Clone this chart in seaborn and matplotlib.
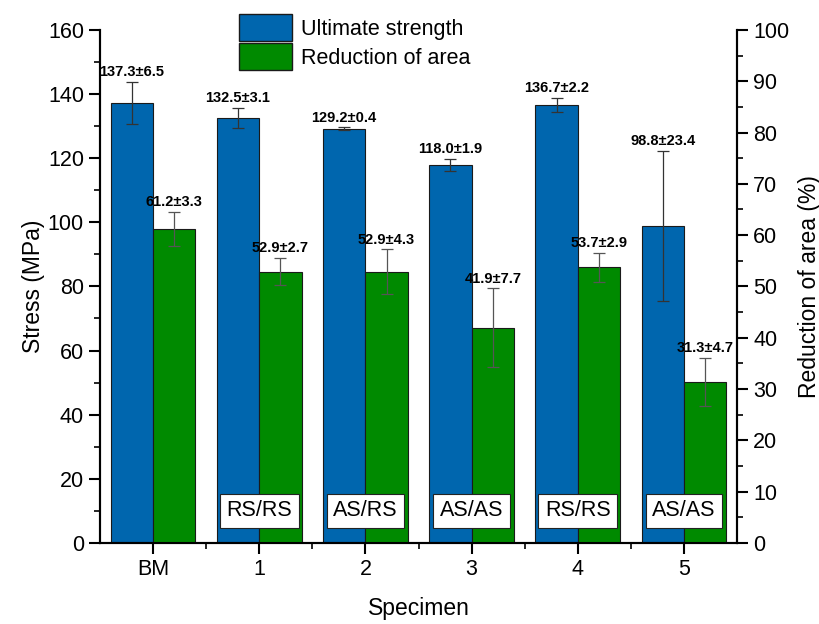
import numpy as np
import pandas as pd
import matplotlib
matplotlib.use("Agg")
import matplotlib.pyplot as plt
import seaborn as sns
from matplotlib.ticker import MultipleLocator
from matplotlib.patches import Patch

specimens = ["BM", "1", "2", "3", "4", "5"]
strength = [137.3, 132.5, 129.2, 118.0, 136.7, 98.8]
strength_err = [6.5, 3.1, 0.4, 1.9, 2.2, 23.4]
reduction = [61.2, 52.9, 52.9, 41.9, 53.7, 31.3]
reduction_err = [3.3, 2.7, 4.3, 7.7, 2.9, 4.7]
sides = ["", "RS/RS", "AS/RS", "AS/AS", "RS/RS", "AS/AS"]

series = ["Ultimate strength", "Reduction of area"]
blue = "#0066AE"
green = "#008A00"

sns.set_style("ticks")
plt.rcParams["font.family"] = ["Liberation Sans", "DejaVu Sans"]
for k in ["text.color", "axes.labelcolor", "xtick.color", "ytick.color", "axes.edgecolor"]:
    plt.rcParams[k] = "black"

n = len(specimens)
df_s = pd.DataFrame({"Specimen": specimens * 2,
                     "Measure": [series[0]] * n + [series[1]] * n,
                     "Value": strength + [np.nan] * n})
df_r = pd.DataFrame({"Specimen": specimens * 2,
                     "Measure": [series[0]] * n + [series[1]] * n,
                     "Value": [np.nan] * n + reduction})

fig = plt.figure(figsize=(8.19, 6.24), dpi=100)
ax = fig.add_axes([0.122, 0.130, 0.778, 0.822])
ax2 = ax.twinx()

pal = {series[0]: blue, series[1]: green}
sns.barplot(data=df_s, x="Specimen", y="Value", hue="Measure", hue_order=series,
            palette=pal, width=0.8, saturation=1, edgecolor="#1a1a1a", linewidth=0.8,
            errorbar=None, legend=False, ax=ax)
sns.barplot(data=df_r, x="Specimen", y="Value", hue="Measure", hue_order=series,
            palette=pal, width=0.8, saturation=1, edgecolor="#1a1a1a", linewidth=0.8,
            errorbar=None, legend=False, ax=ax2)

pos = np.arange(n)
xs = pos - 0.2
xr = pos + 0.2
ax.errorbar(xs, strength, yerr=strength_err, fmt="none", ecolor="#333333",
            elinewidth=0.9, capsize=4, capthick=0.9, zorder=5)
ax2.errorbar(xr, reduction, yerr=reduction_err, fmt="none", ecolor="#555555",
             elinewidth=0.9, capsize=4, capthick=0.9, zorder=5)

for x, v, e in zip(xs, strength, strength_err):
    ax.annotate(f"{v:.1f}±{e:.1f}", (x, v + e), xytext=(0, 2), textcoords="offset points",
                ha="center", va="bottom", fontsize=10.5, fontweight="bold")
for x, v, e in zip(xr, reduction, reduction_err):
    ax2.annotate(f"{v:.1f}±{e:.1f}", (x, v + e), xytext=(0, 2), textcoords="offset points",
                 ha="center", va="bottom", fontsize=10.5, fontweight="bold")

for x, s in zip(pos, sides):
    if s:
        ax2.text(x, 6.3, s, ha="center", va="center", fontsize=15.5, zorder=10,
                 bbox=dict(boxstyle="square,pad=0.3", fc="white", ec="#222222", lw=0.8))

ax.set_xlim(-0.5, n - 0.5)
ax.set_ylim(0, 160)
ax2.set_ylim(0, 100)
ax.yaxis.set_major_locator(MultipleLocator(20))
ax.yaxis.set_minor_locator(MultipleLocator(10))
ax2.yaxis.set_major_locator(MultipleLocator(10))
ax2.yaxis.set_minor_locator(MultipleLocator(5))
ax.set_xticks(pos)
ax.set_xticks(pos[:-1] + 0.5, minor=True)
ax.set_xticklabels(specimens)

for a in (ax, ax2):
    a.spines["top"].set_visible(False)
    for sp in a.spines.values():
        sp.set_linewidth(1.5)
    a.tick_params(which="major", length=8, width=1.5, labelsize=15.5, direction="out")
    a.tick_params(which="minor", length=4.5, width=1.2, direction="out")

ax.set_xlabel("Specimen", fontsize=16.5, labelpad=12)
ax.set_ylabel("Stress (MPa)", fontsize=16.5, labelpad=2)
ax2.set_ylabel("Reduction of area (%)", fontsize=16.5, labelpad=6)

handles = [Patch(facecolor=blue, edgecolor="#1a1a1a", lw=1), Patch(facecolor=green, edgecolor="#1a1a1a", lw=1)]
fig.legend(handles, series, loc="upper left", bbox_to_anchor=(0.292, 0.977),
           frameon=False, fontsize=15.5, handlelength=2.45, handleheight=1.55,
           labelspacing=0.1, handletextpad=0.4, borderpad=0, borderaxespad=0)

fig.savefig("out.png", dpi=100)
